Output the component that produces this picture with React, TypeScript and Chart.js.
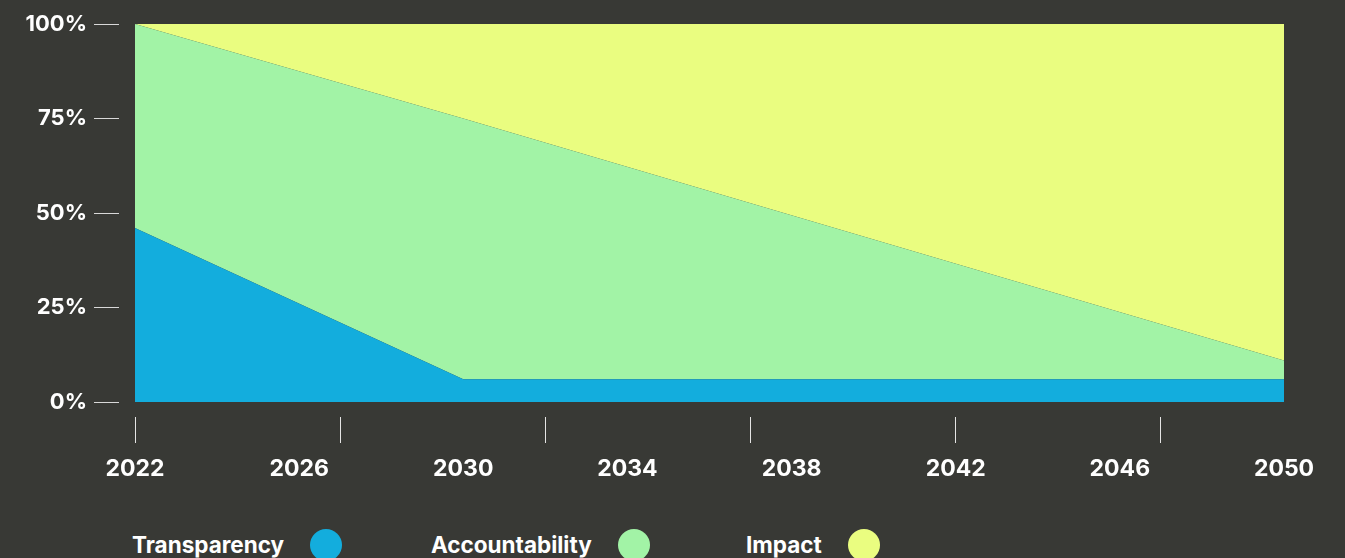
import React, { useEffect, useRef } from "react";
import { Chart, registerables } from "chart.js";

Chart.register(...registerables);

// ---- data ----
const years = [2022, 2030, 2050];
const transparency = [46, 6, 6];
const accountability = [54, 69, 5];
const impact = [0, 25, 89];

const seriesNames = ["Transparency", "Accountability", "Impact"];
const seriesColors = ["#13addd", "#a2f3a6", "#eafd80"];

const xMarkYears = [2022, 2027, 2032, 2037, 2042, 2047];
const xLabelYears = [2022, 2026, 2030, 2034, 2038, 2042, 2046, 2050];
const xTickLabels = ["2022", "2026", "2030", "2034", "2038", "2042", "2046", "2050"];
const yTickValues = [0, 25, 50, 75, 100];
const yTickLabels = ["0%", "25%", "50%", "75%", "100%"];

const BG = "#383935";
const FONT = "Inter, 'Liberation Sans', Arial, sans-serif";

export default function App() {
  const canvasRef = useRef<HTMLCanvasElement | null>(null);

  useEffect(() => {
    const canvas = canvasRef.current;
    if (!canvas) return;
    const values = [transparency, accountability, impact];
    const chart = new Chart(canvas, {
      type: "line",
      data: {
        datasets: values.map((arr, i) => ({
          label: seriesNames[i],
          data: arr.map((v, j) => ({ x: years[j], y: v })),
          backgroundColor: seriesColors[i],
          borderColor: "transparent",
          borderWidth: 0,
          pointRadius: 0,
          tension: 0,
          fill: i === 0 ? "origin" : "-1",
        })),
      },
      options: {
        responsive: false,
        animation: false,
        layout: { padding: { left: 0, right: 61, top: 24, bottom: 0 } },
        plugins: {
          legend: { display: false },
          tooltip: { enabled: false },
        },
        scales: {
          x: {
            type: "linear",
            min: 2022,
            max: 2050,
            position: "bottom",
            weight: 0,
            grid: { display: false },
            ticks: { display: false },
            border: { display: false },
            afterFit: (s: any) => {
              s.height = 15;
            },
          },
          xMarks: {
            type: "linear",
            min: 2022,
            max: 2050,
            position: "bottom",
            weight: 1,
            grid: {
              display: true,
              drawOnChartArea: false,
              drawTicks: true,
              tickLength: 26,
              color: "#e4e4e4",
              tickColor: "#e4e4e4",
              tickWidth: 1,
            },
            ticks: { display: false },
            border: { display: false },
            afterBuildTicks: (s: any) => {
              s.ticks = xMarkYears.map((v) => ({ value: v }));
            },
            afterFit: (s: any) => {
              s.height = 26;
            },
          },
          xLabels: {
            type: "linear",
            min: 2022,
            max: 2050,
            position: "bottom",
            weight: 2,
            grid: { display: false, drawTicks: false },
            border: { display: false },
            ticks: {
              color: "#ffffff",
              font: { family: FONT, size: 23, weight: "bold", lineHeight: 1.2 },
              padding: 12,
              maxRotation: 0,
              autoSkip: false,
              callback: (_v: any, i: number) => xTickLabels[i],
            },
            afterBuildTicks: (s: any) => {
              s.ticks = xLabelYears.map((v) => ({ value: v }));
            },
            afterFit: (s: any) => {
              s.height = 57;
            },
          },
          y: {
            type: "linear",
            stacked: true,
            min: 0,
            max: 100,
            position: "left",
            weight: 0,
            grid: { display: false },
            ticks: { display: false },
            border: { display: false },
            afterFit: (s: any) => {
              s.width = 16;
            },
          },
          yTicks: {
            type: "linear",
            min: 0,
            max: 100,
            position: "left",
            weight: 1,
            grid: {
              display: true,
              drawOnChartArea: false,
              drawTicks: true,
              tickLength: 25,
              color: "#d8d8d8",
              tickColor: "#d8d8d8",
              tickWidth: 1,
            },
            border: { display: false },
            ticks: {
              color: "#ffffff",
              font: { family: FONT, size: 22, weight: "bold", lineHeight: 1.2 },
              padding: 7,
              callback: (_v: any, i: number) => yTickLabels[i],
            },
            afterBuildTicks: (s: any) => {
              s.ticks = yTickValues.map((v) => ({ value: v }));
            },
            afterFit: (s: any) => {
              s.width = 119;
            },
          },
        },
      },
    } as any);
    return () => chart.destroy();
  }, []);

  const legendLeft = [132, 431, 746];

  return (
    <div
      style={{
        position: "absolute",
        left: 0,
        top: 0,
        width: 1345,
        height: 558,
        background: BG,
        overflow: "hidden",
      }}
    >
      <canvas
        ref={canvasRef}
        width={1345}
        height={500}
        style={{ display: "block", width: 1345, height: 500 }}
      />
      {seriesNames.map((name, i) => (
        <div
          key={name}
          style={{
            position: "absolute",
            left: legendLeft[i],
            top: 529,
            height: 32,
            display: "flex",
            alignItems: "center",
            gap: 26,
            color: "#ffffff",
            fontFamily: FONT,
            fontWeight: "bold",
            fontSize: 22.5,
            lineHeight: "32px",
            whiteSpace: "nowrap",
          }}
        >
          <span>{name}</span>
          <span
            style={{
              display: "inline-block",
              width: 32,
              height: 32,
              borderRadius: "50%",
              background: seriesColors[i],
            }}
          />
        </div>
      ))}
    </div>
  );
}
